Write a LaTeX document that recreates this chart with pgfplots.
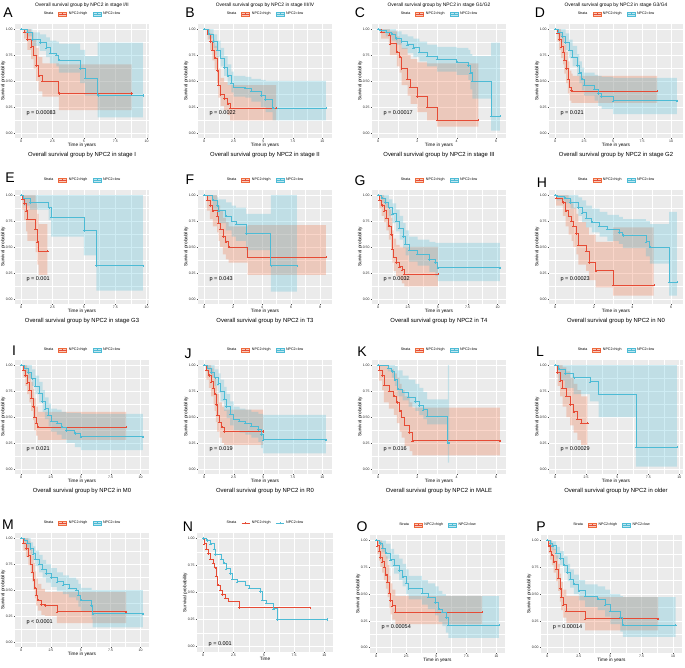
\documentclass[border=0pt]{standalone}
\usepackage{fontspec}
\setmainfont{Liberation Sans}
\usepackage{pgfplots}
\pgfplotsset{compat=1.18}

\definecolor{npgred}{HTML}{E64B35}
\definecolor{npgblue}{HTML}{4DBBD5}
\definecolor{bandred}{HTML}{EE6A3C}
\definecolor{ggbg}{HTML}{EBEBEB}

\pgfplotsset{
  km/.style={
    scale only axis, width=134pt, height=114pt, anchor=north west,
    axis background/.style={fill=ggbg},
    axis line style={draw=none},
    grid=both,
    major grid style={white, line width=0.5pt},
    minor grid style={white, line width=0.25pt},
    minor x tick num=1, minor y tick num=1, minor tick length=0pt,
    tick align=outside, major tick length=1.2pt,
    tick style={gray!60!black, line width=0.3pt},
    tick pos=left,
    ymin=-0.05, ymax=1.05,
    ytick={0,0.25,0.5,0.75,1},
    yticklabels={0.00,0.25,0.50,0.75,1.00},
    enlarge x limits=0.05,
    /pgf/number format/assume math mode=true,
    tick label style={font=\fontsize{3.5}{4}\selectfont, text=gray!30!black},
    xticklabel style={inner sep=1pt},
    yticklabel style={inner sep=1pt},
    xlabel={Time in years}, ylabel={Survival probability},
    label style={font=\fontsize{4.7}{5.2}\selectfont},
    xlabel style={yshift=4.5pt},
    ylabel style={yshift=-4pt},
    legend style={at={(0.5,1)}, anchor=center, yshift=10pt, draw=none, fill=none,
      legend columns=3, font=\fontsize{3.6}{4}\selectfont,
      /tikz/every even column/.append style={column sep=3pt}},
    legend cell align=left,
  },
  legred/.style={legend image code/.code={
    \fill[bandred, fill opacity=0.35] (0pt,-2.2pt) rectangle (8pt,2.2pt);
    \draw[npgred, line width=0.6pt] (0pt,0pt)--(8pt,0pt);
    \draw[npgred, line width=0.4pt] (4pt,-1.3pt)--(4pt,1.3pt);}},
  legblue/.style={legend image code/.code={
    \fill[npgblue, fill opacity=0.35] (0pt,-2.2pt) rectangle (8pt,2.2pt);
    \draw[npgblue, line width=0.6pt] (0pt,0pt)--(8pt,0pt);
    \draw[npgblue, line width=0.4pt] (4pt,-1.3pt)--(4pt,1.3pt);}},
  legredl/.style={legend image code/.code={
    \draw[npgred, line width=0.7pt] (0pt,0pt)--(8pt,0pt);
    \draw[npgred, line width=0.4pt] (4pt,-1.3pt)--(4pt,1.3pt);}},
  legbluel/.style={legend image code/.code={
    \draw[npgblue, line width=0.7pt] (0pt,0pt)--(8pt,0pt);
    \draw[npgblue, line width=0.4pt] (4pt,-1.3pt)--(4pt,1.3pt);}},
}

\newcommand{\legendkm}{%
  \addlegendimage{empty legend}\addlegendentry{Strata}
  \addlegendimage{legred}\addlegendentry{NPC2=high}
  \addlegendimage{legblue}\addlegendentry{NPC2=low}}
% band: upper step curve forwards, then lower step curve backwards
\newcommand{\band}[2]{%
  \addplot[fill=#1, fill opacity=0.27, draw=none, const plot, forget plot] coordinates {#2};}
\newcommand{\curve}[2]{%
  \addplot[#1, const plot, line width=0.7pt, forget plot,
    mark=+, mark size=1.1pt, mark options={line width=0.35pt}] coordinates {#2};}
\newcommand{\pval}[1]{%
  \node[anchor=west, font=\fontsize{5.5}{6}\selectfont] at (rel axis cs:0.06,0.218) {#1};}

\begin{document}
\begin{tikzpicture}
\useasboundingbox (0pt,0pt) rectangle (685pt,-668pt);

% ---------- A
\begin{axis}[km, at={(15pt,-24pt)}, xtick={0,2.5,5,7.5,10}]
\legendkm
\band{bandred}{(0,1)(0.25,1)(0.5,1)(0.8,0.97)(1.0,0.90)(1.2,0.82)(1.4,0.73)(1.7,0.67)(3.0,0.66)(8.8,0.66)
 (8.8,0.22)(3.0,0.35)(1.7,0.40)(1.4,0.50)(1.2,0.62)(1.0,0.71)(0.8,0.80)(0.5,0.91)(0.25,1.00)(0,1.00)}
\band{npgblue}{(0,1)(0.5,1)(0.9,0.97)(1.5,0.95)(2.0,0.92)(2.3,0.89)(2.8,0.88)(3.0,0.86)(4.7,0.80)(5.1,0.74)(6.1,0.87)(9.7,0.87)
 (9.7,0.15)(6.1,0.36)(5.1,0.48)(4.7,0.58)(3.0,0.64)(2.8,0.67)(2.3,0.73)(2.0,0.79)(1.5,0.84)(0.9,0.93)(0.5,1.00)(0,1.00)}
\curve{npgred}{(0,1)(0.25,0.97)(0.5,0.90)(0.8,0.83)(1.0,0.75)(1.2,0.65)(1.4,0.55)(1.7,0.50)(3.0,0.38)(8.8,0.38)}
\curve{npgblue}{(0,1)(0.5,0.97)(0.9,0.90)(1.5,0.87)(2.0,0.82)(2.3,0.77)(2.8,0.75)(3.0,0.70)(4.7,0.62)(5.1,0.53)(6.1,0.36)(9.7,0.36)}
\pval{p = 0.00083}
\end{axis}

% ---------- B
\begin{axis}[km, at={(198pt,-24pt)}, xtick={0,2.5,5,7.5,10}]
\legendkm
\band{bandred}{(0,1)(0.3,1)(0.5,0.96)(0.7,0.90)(0.9,0.84)(1.1,0.74)(1.2,0.62)(1.4,0.53)(1.7,0.49)(2.0,0.46)(2.2,0.46)(6.1,0.46)
 (6.1,0.12)(2.2,0.17)(2.0,0.22)(1.7,0.26)(1.4,0.34)(1.2,0.48)(1.1,0.61)(0.9,0.70)(0.7,0.80)(0.5,0.90)(0.3,1.00)(0,1.00)}
\band{npgblue}{(0,1)(0.4,1)(0.8,0.95)(1.1,0.89)(1.4,0.82)(1.7,0.74)(2.0,0.66)(2.3,0.59)(2.5,0.55)(3.5,0.54)(4.0,0.52)(4.8,0.51)(5.2,0.50)(5.8,0.50)(10.3,0.50)
 (10.3,0.12)(5.8,0.20)(5.2,0.25)(4.8,0.30)(4.0,0.34)(3.5,0.35)(2.5,0.39)(2.3,0.46)(2.0,0.55)(1.7,0.64)(1.4,0.73)(1.1,0.82)(0.8,0.91)(0.4,1.00)(0,1.00)}
\curve{npgred}{(0,1)(0.3,0.95)(0.5,0.88)(0.7,0.80)(0.9,0.72)(1.1,0.60)(1.2,0.46)(1.4,0.37)(1.7,0.33)(2.0,0.28)(2.2,0.24)(6.1,0.24)}
\curve{npgblue}{(0,1)(0.4,0.95)(0.8,0.88)(1.1,0.80)(1.4,0.72)(1.7,0.63)(2.0,0.55)(2.3,0.48)(2.5,0.44)(3.5,0.43)(4.0,0.40)(4.8,0.36)(5.2,0.32)(5.8,0.24)(10.3,0.24)}
\pval{p = 0.0022}
\end{axis}

% ---------- C
\begin{axis}[km, at={(372pt,-24pt)}, xtick={0,2,4,6}]
\legendkm
\band{bandred}{(0,1)(0.15,1)(0.55,1)(0.6,0.98)(0.95,0.93)(1.1,0.90)(1.2,0.82)(1.5,0.75)(1.65,0.71)(2.0,0.68)(2.5,0.67)(3.0,0.67)(5.1,0.67)
 (5.1,0.06)(3.0,0.12)(2.5,0.20)(2.0,0.28)(1.65,0.36)(1.5,0.46)(1.2,0.58)(1.1,0.64)(0.95,0.75)(0.6,0.86)(0.55,0.91)(0.15,1.00)(0,1.00)}
\band{npgblue}{(0,1)(0.1,1)(0.4,1)(0.7,1)(0.9,0.98)(1.2,0.95)(1.5,0.93)(1.8,0.91)(2.1,0.88)(2.5,0.85)(3.0,0.83)(4.0,0.82)(4.6,0.80)(4.7,0.76)(4.8,0.74)(5.75,0.87)(6.2,0.87)
 (6.2,0.02)(5.75,0.33)(4.8,0.42)(4.7,0.51)(4.6,0.56)(4.0,0.59)(3.0,0.64)(2.5,0.69)(2.1,0.73)(1.8,0.77)(1.5,0.81)(1.2,0.85)(0.9,0.89)(0.7,0.93)(0.4,0.97)(0.1,1.00)(0,1.00)}
\curve{npgred}{(0,1)(0.15,0.97)(0.55,0.94)(0.6,0.86)(0.95,0.78)(1.1,0.73)(1.2,0.62)(1.5,0.52)(1.65,0.44)(2.0,0.35)(2.5,0.25)(3.0,0.12)(5.1,0.12)}
\curve{npgblue}{(0,1)(0.1,0.99)(0.4,0.97)(0.7,0.95)(0.9,0.91)(1.2,0.88)(1.5,0.85)(1.8,0.82)(2.1,0.78)(2.5,0.74)(3.0,0.71)(4.0,0.68)(4.6,0.65)(4.7,0.58)(4.8,0.50)(5.75,0.16)(6.2,0.16)}
\pval{p = 0.00017}
\end{axis}

% ---------- D
\begin{axis}[km, at={(549pt,-24pt)}, xtick={0,2.5,5,7.5,10}]
\legendkm
\band{bandred}{(0,1)(0.2,1)(0.35,1)(0.5,0.96)(0.7,0.92)(0.8,0.85)(0.95,0.78)(1.1,0.69)(1.25,0.60)(1.4,0.57)(1.5,0.55)(8.8,0.55)
 (8.8,0.29)(1.5,0.29)(1.4,0.31)(1.25,0.38)(1.1,0.48)(0.95,0.57)(0.8,0.66)(0.7,0.72)(0.5,0.80)(0.35,0.88)(0.2,1.00)(0,1.00)}
\band{npgblue}{(0,1)(0.3,1)(0.6,1)(0.9,0.96)(1.2,0.90)(1.5,0.84)(1.9,0.76)(2.1,0.69)(2.3,0.63)(2.5,0.58)(3.4,0.56)(3.7,0.55)(4.0,0.54)(5.0,0.53)(10.5,0.53)
 (10.5,0.18)(5.0,0.23)(4.0,0.26)(3.7,0.31)(3.4,0.36)(2.5,0.41)(2.3,0.48)(2.1,0.55)(1.9,0.64)(1.5,0.72)(1.2,0.80)(0.9,0.87)(0.6,0.93)(0.3,1.00)(0,1.00)}
\curve{npgred}{(0,1)(0.2,0.96)(0.35,0.90)(0.5,0.83)(0.7,0.78)(0.8,0.70)(0.95,0.62)(1.1,0.52)(1.25,0.44)(1.4,0.41)(1.5,0.40)(8.8,0.40)}
\curve{npgblue}{(0,1)(0.3,0.97)(0.6,0.93)(0.9,0.87)(1.2,0.80)(1.5,0.73)(1.9,0.65)(2.1,0.58)(2.3,0.52)(2.5,0.46)(3.4,0.42)(3.7,0.38)(4.0,0.35)(5.0,0.31)(10.5,0.31)}
\pval{p = 0.021}
\end{axis}

% ---------- E
\begin{axis}[km, at={(15pt,-190pt)}, xtick={0,2.5,5,7.5,10}]
\legendkm
\band{bandred}{(0,1)(0.1,1)(0.25,1)(0.4,1)(0.5,1)(1.15,0.92)(1.3,0.82)(1.4,0.72)(2.1,0.72)
 (2.1,0.23)(1.4,0.33)(1.3,0.45)(1.15,0.56)(0.5,0.65)(0.4,0.76)(0.25,0.86)(0.1,1.00)(0,1.00)}
\band{npgblue}{(0,1)(9.7,1)
 (9.7,0.08)(6.0,0.42)(5.0,0.60)(2.4,0.76)(2.2,0.86)(0.7,0.90)(0.2,1.00)(0,1.00)}
\curve{npgred}{(0,1)(0.1,0.96)(0.25,0.92)(0.4,0.85)(0.5,0.77)(1.15,0.67)(1.3,0.55)(1.4,0.46)(2.1,0.46)}
\curve{npgblue}{(0,1)(0.2,0.97)(0.7,0.93)(2.2,0.88)(2.4,0.79)(5.0,0.66)(6.0,0.32)(9.7,0.32)}
\pval{p = 0.001}
\end{axis}

% ---------- F
\begin{axis}[km, at={(198pt,-190pt)}, xtick={0,2,4,6,8}]
\legendkm
\band{bandred}{(0,1)(0.2,1)(0.4,1)(0.6,1)(0.9,0.95)(1.0,0.90)(1.1,0.85)(1.3,0.78)(1.5,0.74)(1.7,0.70)(3.0,0.71)(8.4,0.71)
 (8.4,0.23)(3.0,0.35)(1.7,0.38)(1.5,0.43)(1.3,0.50)(1.1,0.56)(1.0,0.64)(0.9,0.70)(0.6,0.77)(0.4,0.85)(0.2,1.00)(0,1.00)}
\band{npgblue}{(0,1)(0.6,1)(0.9,0.98)(1.0,0.96)(1.5,0.93)(1.9,0.90)(2.2,0.88)(2.9,0.82)(4.6,1)(6.4,1)
 (6.4,0.07)(4.6,0.47)(2.9,0.56)(2.2,0.60)(1.9,0.66)(1.5,0.73)(1.0,0.79)(0.9,0.86)(0.6,1.00)(0,1.00)}
\curve{npgred}{(0,1)(0.2,0.95)(0.4,0.90)(0.6,0.85)(0.9,0.80)(1.0,0.73)(1.1,0.67)(1.3,0.60)(1.5,0.55)(1.7,0.50)(3.0,0.40)(8.4,0.40)}
\curve{npgblue}{(0,1)(0.6,0.95)(0.9,0.90)(1.0,0.85)(1.5,0.80)(1.9,0.75)(2.2,0.72)(2.9,0.63)(4.6,0.32)(6.4,0.32)}
\pval{p = 0.043}
\end{axis}

% ---------- G
\begin{axis}[km, at={(372pt,-190pt)}, xtick={0,2.5,5,7.5,10}]
\legendkm
\band{bandred}{(0,1)(0.1,1)(0.3,1)(0.5,0.97)(0.7,0.92)(0.9,0.86)(1.1,0.78)(1.2,0.66)(1.3,0.58)(1.5,0.52)(1.8,0.50)(2.0,0.50)(2.2,0.50)(5.0,0.50)
 (5.0,0.12)(2.2,0.15)(2.0,0.18)(1.8,0.22)(1.5,0.27)(1.3,0.35)(1.2,0.48)(1.1,0.57)(0.9,0.66)(0.7,0.74)(0.5,0.80)(0.3,0.87)(0.1,1.00)(0,1.00)}
\band{npgblue}{(0,1)(0.3,1)(0.6,1)(0.9,0.96)(1.2,0.92)(1.5,0.86)(1.8,0.80)(2.1,0.73)(2.3,0.66)(2.6,0.60)(3.3,0.57)(4.3,0.55)(4.8,0.54)(5.0,0.54)(10.2,0.54)
 (10.2,0.17)(5.0,0.22)(4.8,0.26)(4.3,0.32)(3.3,0.36)(2.6,0.42)(2.3,0.49)(2.1,0.57)(1.8,0.65)(1.5,0.73)(1.2,0.80)(0.9,0.88)(0.6,0.93)(0.3,1.00)(0,1.00)}
\curve{npgred}{(0,1)(0.1,0.95)(0.3,0.90)(0.5,0.85)(0.7,0.78)(0.9,0.70)(1.1,0.62)(1.2,0.48)(1.3,0.40)(1.5,0.35)(1.8,0.31)(2.0,0.28)(2.2,0.24)(5.0,0.24)}
\curve{npgblue}{(0,1)(0.3,0.97)(0.6,0.93)(0.9,0.88)(1.2,0.82)(1.5,0.75)(1.8,0.68)(2.1,0.60)(2.3,0.53)(2.6,0.47)(3.3,0.43)(4.3,0.38)(4.8,0.35)(5.0,0.30)(10.2,0.30)}
\pval{p = 0.0032}
\end{axis}

% ---------- H
\begin{axis}[km, at={(549pt,-190pt)}, xtick={0,2,4,6}]
\legendkm
\band{bandred}{(0,1)(0.05,1)(0.4,1)(0.55,1)(0.7,0.96)(0.85,0.92)(0.95,0.88)(1.1,0.82)(1.2,0.74)(1.6,0.69)(1.75,0.62)(2.1,0.55)(3.0,0.69)(5.1,0.69)
 (5.1,0.03)(3.0,0.11)(2.1,0.18)(1.75,0.27)(1.6,0.33)(1.2,0.43)(1.1,0.50)(0.95,0.56)(0.85,0.62)(0.7,0.70)(0.55,0.80)(0.4,0.90)(0.05,1.00)(0,1.00)}
\band{npgblue}{(0,1)(0.1,1)(0.5,1)(0.8,1)(1.2,0.98)(1.4,0.95)(1.6,0.90)(1.9,0.87)(2.3,0.84)(2.7,0.81)(3.3,0.79)(3.5,0.77)(4.7,0.75)(4.9,0.72)(5.9,0.84)(6.3,0.84)
 (6.3,0.03)(5.9,0.34)(4.9,0.41)(4.7,0.49)(3.5,0.53)(3.3,0.56)(2.7,0.60)(2.3,0.64)(1.9,0.69)(1.6,0.74)(1.4,0.80)(1.2,0.87)(0.8,0.92)(0.5,0.95)(0.1,1.00)(0,1.00)}
\curve{npgred}{(0,1)(0.05,0.97)(0.4,0.93)(0.55,0.85)(0.7,0.80)(0.85,0.75)(0.95,0.70)(1.1,0.63)(1.2,0.52)(1.6,0.46)(1.75,0.35)(2.1,0.27)(3.0,0.13)(5.1,0.13)}
\curve{npgblue}{(0,1)(0.1,0.99)(0.5,0.97)(0.8,0.93)(1.2,0.88)(1.4,0.83)(1.6,0.78)(1.9,0.74)(2.3,0.70)(2.7,0.67)(3.3,0.64)(3.5,0.61)(4.7,0.55)(4.9,0.50)(5.9,0.16)(6.3,0.16)}
\pval{p = 0.00023}
\end{axis}

% ---------- I
\begin{axis}[km, at={(15pt,-360pt)}, xtick={0,2.5,5,7.5,10}]
\legendkm
\band{bandred}{(0,1)(0.2,1)(0.35,1)(0.5,0.96)(0.7,0.92)(0.85,0.84)(1.0,0.77)(1.1,0.68)(1.25,0.60)(1.4,0.55)(8.8,0.55)
 (8.8,0.28)(1.4,0.32)(1.25,0.37)(1.1,0.47)(1.0,0.56)(0.85,0.64)(0.7,0.72)(0.5,0.80)(0.35,0.88)(0.2,1.00)(0,1.00)}
\band{npgblue}{(0,1)(0.3,1)(0.6,1)(0.9,0.96)(1.2,0.90)(1.5,0.84)(1.8,0.76)(2.0,0.69)(2.3,0.63)(2.5,0.58)(3.0,0.57)(3.4,0.55)(3.8,0.54)(4.5,0.54)(5.0,0.53)(10.2,0.53)
 (10.2,0.18)(5.0,0.21)(4.5,0.25)(3.8,0.29)(3.4,0.33)(3.0,0.36)(2.5,0.41)(2.3,0.48)(2.0,0.55)(1.8,0.64)(1.5,0.72)(1.2,0.80)(0.9,0.87)(0.6,0.93)(0.3,1.00)(0,1.00)}
\curve{npgred}{(0,1)(0.2,0.95)(0.35,0.90)(0.5,0.83)(0.7,0.76)(0.85,0.68)(1.0,0.60)(1.1,0.50)(1.25,0.44)(1.4,0.40)(8.8,0.40)}
\curve{npgblue}{(0,1)(0.3,0.97)(0.6,0.93)(0.9,0.87)(1.2,0.80)(1.5,0.73)(1.8,0.65)(2.0,0.58)(2.3,0.52)(2.5,0.46)(3.0,0.44)(3.4,0.40)(3.8,0.37)(4.5,0.34)(5.0,0.31)(10.2,0.31)}
\pval{p = 0.021}
\end{axis}

% ---------- J
\begin{axis}[km, at={(198pt,-360pt)}, xtick={0,2.5,5,7.5,10}]
\legendkm
\band{bandred}{(0,1)(0.2,1)(0.4,1)(0.6,0.97)(0.8,0.93)(0.9,0.88)(1.0,0.80)(1.1,0.72)(1.3,0.64)(1.5,0.60)(1.7,0.57)(5.0,0.57)
 (5.0,0.23)(1.7,0.25)(1.5,0.30)(1.3,0.36)(1.1,0.45)(1.0,0.56)(0.9,0.62)(0.8,0.70)(0.6,0.78)(0.4,0.86)(0.2,1.00)(0,1.00)}
\band{npgblue}{(0,1)(0.3,1)(0.6,1)(0.9,0.96)(1.2,0.92)(1.4,0.86)(1.7,0.79)(1.9,0.72)(2.2,0.65)(2.5,0.60)(3.0,0.58)(3.5,0.57)(4.0,0.55)(4.6,0.53)(4.8,0.53)(5.0,0.52)(10.3,0.52)
 (10.3,0.15)(5.0,0.20)(4.8,0.26)(4.6,0.30)(4.0,0.33)(3.5,0.35)(3.0,0.37)(2.5,0.42)(2.2,0.49)(1.9,0.56)(1.7,0.65)(1.4,0.73)(1.2,0.80)(0.9,0.88)(0.6,0.93)(0.3,1.00)(0,1.00)}
\curve{npgred}{(0,1)(0.2,0.95)(0.4,0.90)(0.6,0.84)(0.8,0.78)(0.9,0.72)(1.0,0.62)(1.1,0.52)(1.3,0.45)(1.5,0.40)(1.7,0.36)(5.0,0.36)}
\curve{npgblue}{(0,1)(0.3,0.97)(0.6,0.93)(0.9,0.88)(1.2,0.82)(1.4,0.75)(1.7,0.67)(1.9,0.60)(2.2,0.53)(2.5,0.48)(3.0,0.46)(3.5,0.44)(4.0,0.41)(4.6,0.38)(4.8,0.33)(5.0,0.28)(10.3,0.28)}
\pval{p = 0.019}
\end{axis}

% ---------- K
\begin{axis}[km, at={(372pt,-360pt)}, xtick={0,2,4,6}]
\legendkm
\band{bandred}{(0,1)(0.05,1)(0.2,1)(0.3,1)(0.55,0.96)(0.8,0.92)(0.95,0.88)(1.1,0.82)(1.2,0.76)(1.35,0.70)(1.6,0.64)(1.75,0.59)(6.2,0.59)
 (6.2,0.13)(1.75,0.17)(1.6,0.22)(1.35,0.30)(1.2,0.36)(1.1,0.44)(0.95,0.52)(0.8,0.58)(0.55,0.64)(0.3,0.76)(0.2,0.85)(0.05,1.00)(0,1.00)}
\band{npgblue}{(0,1)(0.5,1)(0.7,1)(0.85,0.99)(1.0,0.95)(1.25,0.90)(1.55,0.86)(1.9,0.82)(2.1,0.78)(2.3,0.74)(2.5,0.67)(3.55,1)(3.62,1)
 (3.62,0.06)(3.55,0.43)(2.5,0.48)(2.3,0.52)(2.1,0.56)(1.9,0.60)(1.55,0.66)(1.25,0.70)(1.0,0.80)(0.85,0.88)(0.7,0.94)(0.5,1.00)(0,1.00)}
\curve{npgred}{(0,1)(0.05,0.95)(0.2,0.90)(0.3,0.81)(0.55,0.75)(0.8,0.70)(0.95,0.64)(1.1,0.56)(1.2,0.50)(1.35,0.42)(1.6,0.35)(1.75,0.27)(6.2,0.27)}
\curve{npgblue}{(0,1)(0.5,0.97)(0.7,0.94)(0.85,0.86)(1.0,0.77)(1.25,0.74)(1.55,0.69)(1.9,0.65)(2.1,0.61)(2.3,0.57)(2.5,0.51)(3.55,0.25)(3.62,0.25)}
\pval{p = 0.016}
\end{axis}

% ---------- L
\begin{axis}[km, at={(549pt,-360pt)}, xtick={0,2.5,5,7.5,10}]
\legendkm
\band{bandred}{(0,1)(0.2,1)(0.4,1)(0.6,0.98)(0.9,0.94)(1.2,0.88)(1.5,0.82)(1.8,0.76)(2.1,0.70)(2.6,0.70)
 (2.6,0.23)(2.1,0.28)(1.8,0.35)(1.5,0.42)(1.2,0.50)(0.9,0.60)(0.6,0.70)(0.4,0.80)(0.2,1.00)(0,1.00)}
\band{npgblue}{(0,1)(9.8,1)
 (9.8,0.02)(6.5,0.50)(3.5,0.65)(2.8,0.72)(1.5,0.78)(0.8,0.85)(0.3,1.00)(0,1.00)}
\curve{npgred}{(0,1)(0.2,0.93)(0.4,0.85)(0.6,0.78)(0.9,0.70)(1.2,0.62)(1.5,0.55)(1.8,0.48)(2.1,0.44)(2.6,0.44)}
\curve{npgblue}{(0,1)(0.3,0.96)(0.8,0.92)(1.5,0.88)(2.8,0.84)(3.5,0.72)(6.5,0.21)(9.8,0.21)}
\pval{p = 0.00029}
\end{axis}

% ---------- M
\begin{axis}[km, at={(15pt,-533pt)}, xtick={0,2.5,5,7.5,10}]
\legendkm
\band{bandred}{(0,1)(0.2,1)(0.4,1)(0.6,0.97)(0.8,0.90)(0.95,0.83)(1.05,0.76)(1.15,0.68)(1.25,0.61)(1.4,0.56)(1.7,0.51)(2.0,0.48)(3.0,0.48)(8.8,0.48)
 (8.8,0.18)(3.0,0.25)(2.0,0.26)(1.7,0.30)(1.4,0.35)(1.25,0.42)(1.15,0.50)(1.05,0.58)(0.95,0.66)(0.8,0.74)(0.6,0.82)(0.4,0.88)(0.2,1.00)(0,1.00)}
\band{npgblue}{(0,1)(0.3,1)(0.5,1)(0.8,0.96)(1.0,0.92)(1.2,0.88)(1.5,0.84)(1.8,0.79)(2.1,0.75)(2.5,0.71)(3.0,0.67)(3.5,0.64)(4.0,0.62)(4.6,0.60)(4.8,0.56)(5.0,0.52)(5.9,0.50)(6.0,0.50)(10.2,0.50)
 (10.2,0.14)(6.0,0.22)(5.9,0.29)(5.0,0.34)(4.8,0.40)(4.6,0.43)(4.0,0.46)(3.5,0.49)(3.0,0.53)(2.5,0.57)(2.1,0.62)(1.8,0.67)(1.5,0.73)(1.2,0.79)(1.0,0.85)(0.8,0.91)(0.5,0.96)(0.3,1.00)(0,1.00)}
\curve{npgred}{(0,1)(0.2,0.95)(0.4,0.90)(0.6,0.83)(0.8,0.75)(0.95,0.67)(1.05,0.60)(1.15,0.52)(1.25,0.45)(1.4,0.40)(1.7,0.36)(2.0,0.35)(3.0,0.29)(8.8,0.29)}
\curve{npgblue}{(0,1)(0.3,0.98)(0.5,0.95)(0.8,0.90)(1.0,0.85)(1.2,0.80)(1.5,0.75)(1.8,0.70)(2.1,0.66)(2.5,0.62)(3.0,0.58)(3.5,0.55)(4.0,0.52)(4.6,0.50)(4.8,0.45)(5.0,0.40)(5.9,0.35)(6.0,0.27)(10.2,0.27)}
\pval{p < 0.0001}
\end{axis}

% ---------- N (no bands); panel background laid down first
\fill[ggbg] (197pt,-533pt) rectangle (333pt,-652pt);
\begin{axis}[km, at={(197pt,-533pt)}, width=136pt, height=119pt,
    xtick={0,2.5,5,7.5,10}, xlabel={Time}]
\addlegendimage{empty legend}\addlegendentry{Strata}
\addlegendimage{legredl}\addlegendentry{NPC2=high}
\addlegendimage{legbluel}\addlegendentry{NPC2=low}
\curve{npgred}{(0,1)(0.1,0.95)(0.25,0.90)(0.4,0.86)(0.6,0.81)(0.8,0.77)(0.95,0.73)(1.05,0.65)(1.2,0.57)(1.4,0.52)(1.6,0.48)(1.8,0.45)(2.1,0.42)(3.0,0.36)(8.8,0.36)}
\curve{npgblue}{(0,1)(0.3,0.98)(0.6,0.95)(0.9,0.90)(1.0,0.85)(1.5,0.81)(1.7,0.77)(1.9,0.72)(2.2,0.675)(2.4,0.625)(2.8,0.60)(3.5,0.57)(3.8,0.54)(4.7,0.51)(4.9,0.43)(5.2,0.40)(5.8,0.35)(6.1,0.25)(10.2,0.25)}
\node[anchor=west, font=\fontsize{5.5}{6}\selectfont] at (rel axis cs:0.06,0.07) {p = 0.001};
\end{axis}

% ---------- O
\begin{axis}[km, at={(370pt,-535pt)}, width=135pt, height=118pt, xtick={0,2.5,5,7.5,10}]
\legendkm
\band{bandred}{(0,1)(0.1,1)(0.25,1)(0.35,1)(0.5,0.96)(0.65,0.92)(0.8,0.85)(0.95,0.77)(1.1,0.67)(1.2,0.60)(1.35,0.54)(1.6,0.48)(8.8,0.48)
 (8.8,0.22)(1.6,0.26)(1.35,0.31)(1.2,0.37)(1.1,0.47)(0.95,0.55)(0.8,0.63)(0.65,0.70)(0.5,0.75)(0.35,0.81)(0.25,0.87)(0.1,1.00)(0,1.00)}
\band{npgblue}{(0,1)(0.3,1)(0.5,1)(0.8,0.97)(1.2,0.92)(1.5,0.87)(1.9,0.83)(2.2,0.78)(2.5,0.73)(2.7,0.67)(3.8,0.63)(4.3,0.60)(4.9,0.57)(5.2,0.53)(5.5,0.50)(5.8,0.48)(6.0,0.48)(10.2,0.48)
 (10.2,0.09)(6.0,0.14)(5.8,0.20)(5.5,0.24)(5.2,0.30)(4.9,0.36)(4.3,0.40)(3.8,0.45)(2.7,0.50)(2.5,0.57)(2.2,0.63)(1.9,0.69)(1.5,0.75)(1.2,0.83)(0.8,0.89)(0.5,0.95)(0.3,1.00)(0,1.00)}
\curve{npgred}{(0,1)(0.1,0.95)(0.25,0.90)(0.35,0.84)(0.5,0.80)(0.65,0.75)(0.8,0.68)(0.95,0.61)(1.1,0.51)(1.2,0.44)(1.35,0.39)(1.6,0.33)(8.8,0.33)}
\curve{npgblue}{(0,1)(0.3,0.97)(0.5,0.93)(0.8,0.88)(1.2,0.82)(1.5,0.77)(1.9,0.72)(2.2,0.66)(2.5,0.60)(2.7,0.55)(3.8,0.51)(4.3,0.47)(4.9,0.42)(5.2,0.36)(5.5,0.33)(5.8,0.28)(6.0,0.21)(10.2,0.21)}
\pval{p = 0.00054}
\end{axis}

% ---------- P
\begin{axis}[km, at={(541pt,-535pt)}, width=141pt, height=118pt, xtick={0,2.5,5,7.5,10}]
\legendkm
\band{bandred}{(0,1)(0.1,1)(0.2,1)(0.35,0.97)(0.5,0.92)(0.7,0.86)(0.85,0.78)(1.0,0.69)(1.1,0.61)(1.25,0.54)(1.5,0.48)(3.0,0.47)(8.8,0.47)
 (8.8,0.16)(3.0,0.23)(1.5,0.28)(1.25,0.35)(1.1,0.43)(1.0,0.53)(0.85,0.62)(0.7,0.70)(0.5,0.77)(0.35,0.82)(0.2,0.88)(0.1,1.00)(0,1.00)}
\band{npgblue}{(0,1)(0.2,1)(0.4,0.99)(0.7,0.94)(1.0,0.90)(1.3,0.85)(1.6,0.78)(1.8,0.73)(2.1,0.68)(2.5,0.63)(3.0,0.59)(4.0,0.57)(4.6,0.54)(5.0,0.50)(5.8,0.48)(6.0,0.47)(10.2,0.47)
 (10.2,0.10)(6.0,0.15)(5.8,0.22)(5.0,0.29)(4.6,0.35)(4.0,0.38)(3.0,0.44)(2.5,0.50)(2.1,0.56)(1.8,0.62)(1.6,0.70)(1.3,0.77)(1.0,0.83)(0.7,0.91)(0.4,0.94)(0.2,1.00)(0,1.00)}
\curve{npgred}{(0,1)(0.1,0.95)(0.2,0.90)(0.35,0.86)(0.5,0.80)(0.7,0.73)(0.85,0.65)(1.0,0.55)(1.1,0.47)(1.25,0.40)(1.5,0.34)(3.0,0.27)(8.8,0.27)}
\curve{npgblue}{(0,1)(0.2,0.97)(0.4,0.95)(0.7,0.88)(1.0,0.83)(1.3,0.77)(1.6,0.70)(1.8,0.64)(2.1,0.59)(2.5,0.53)(3.0,0.48)(4.0,0.45)(4.6,0.40)(5.0,0.34)(5.8,0.28)(6.0,0.21)(10.2,0.21)}
\pval{p = 0.00014}
\end{axis}

% titles of the top row
\begin{scope}[font=\fontsize{4.9}{5.5}\selectfont]
\node at (82pt,-5pt) {Overall survival group by NPC2 in stage I/II};
\node at (265pt,-5pt) {Overall survival group by NPC2 in stage III/IV};
\node at (439pt,-5pt) {Overall survival group by NPC2 in stage G1/G2};
\node at (616pt,-5pt) {Overall survival group by NPC2 in stage G3/G4};
\end{scope}
% captions under the panels
\begin{scope}[font=\fontsize{5.9}{6.5}\selectfont]
\node at (82pt,-155pt) {Overall survival group by NPC2 in stage I};
\node at (265pt,-155pt) {Overall survival group by NPC2 in stage II};
\node at (439pt,-155pt) {Overall survival group by NPC2 in stage III};
\node at (616pt,-155pt) {Overall survival group by NPC2 in stage G2};
\node at (82pt,-321pt) {Overall survival group by NPC2 in stage G3};
\node at (265pt,-321pt) {Overall survival group by NPC2 in T3};
\node at (439pt,-321pt) {Overall survival group by NPC2 in T4};
\node at (616pt,-321pt) {Overall survival group by NPC2 in N0};
\node at (82pt,-491pt) {Overall survival group by NPC2 in M0};
\node at (265pt,-491pt) {Overall survival group by NPC2 in R0};
\node at (439pt,-491pt) {Overall survival group by NPC2 in MALE};
\node at (616pt,-491pt) {Overall survival group by NPC2 in older};
\end{scope}
% panel letters
\begin{scope}[font=\fontsize{14}{14}\selectfont]
\node at (8pt,-13pt) {A}; \node at (190pt,-13pt) {B}; \node at (360pt,-13pt) {C}; \node at (540pt,-13pt) {D};
\node at (10pt,-178pt) {E}; \node at (190pt,-180pt) {F}; \node at (360pt,-181pt) {G}; \node at (542pt,-183pt) {H};
\node at (14pt,-351pt) {I}; \node at (188pt,-354pt) {J}; \node at (362pt,-352pt) {K}; \node at (540pt,-352pt) {L};
\node at (8pt,-525pt) {M}; \node at (188pt,-527pt) {N}; \node at (362pt,-527pt) {O}; \node at (541pt,-527pt) {P};
\end{scope}
\end{tikzpicture}
\end{document}
